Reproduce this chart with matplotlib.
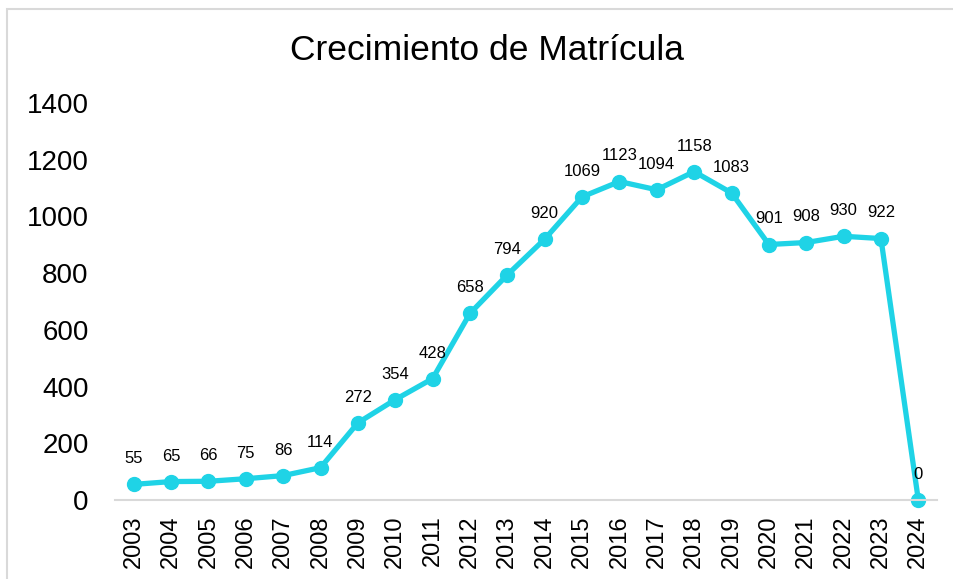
import matplotlib.pyplot as plt
from matplotlib.patches import Rectangle

plt.rcParams['font.family'] = ['Liberation Sans', 'DejaVu Sans']

# Enrollment per year
years = ["2003", "2004", "2005", "2006", "2007", "2008", "2009", "2010", "2011",
         "2012", "2013", "2014", "2015", "2016", "2017", "2018", "2019", "2020",
         "2021", "2022", "2023", "2024"]
students = [55, 65, 66, 75, 86, 114, 272, 354, 428, 658, 794, 920, 1069, 1123,
            1094, 1158, 1083, 901, 908, 930, 922, 0]

line_color = "#1FD3E6"

fig = plt.figure(figsize=(9.54, 5.79), dpi=100)
ax = fig.add_axes([115 / 954, 1 - 500 / 579, 822 / 954, 397 / 579])

x = range(len(years))
ax.plot(x, students, color=line_color, linewidth=3.8, marker="o",
        markersize=10, solid_capstyle="round", clip_on=False)

for xi, v in zip(x, students):
    ax.annotate(str(v), (xi, v), textcoords="offset points", xytext=(0, 13),
                ha="center", va="bottom", fontsize=12)

ax.set_xlim(-0.5, len(years) - 0.5)
ax.set_ylim(0, 1400)
ax.set_yticks(range(0, 1401, 200))
ax.set_xticks(list(x))
ax.set_xticklabels(years, rotation=90, fontsize=17)
ax.tick_params(axis="y", labelsize=20, length=0, pad=19)
ax.tick_params(axis="x", length=0, pad=11)

for side in ["top", "right", "left"]:
    ax.spines[side].set_visible(False)
ax.spines["bottom"].set_color("#d9d9d9")
ax.spines["bottom"].set_linewidth(1.5)

fig.text(487 / 954, 1 - 51 / 579, "Crecimiento de Matrícula", ha="center",
         va="center", fontsize=25.5)

# light gray frame around the chart
fig.patches.append(Rectangle((7 / 954, -0.1), 1.2, 1 - 8.5 / 579 + 0.1,
                             transform=fig.transFigure, fill=False,
                             edgecolor="#d9d9d9", linewidth=1.5))

fig.savefig("out.png", dpi=100)
